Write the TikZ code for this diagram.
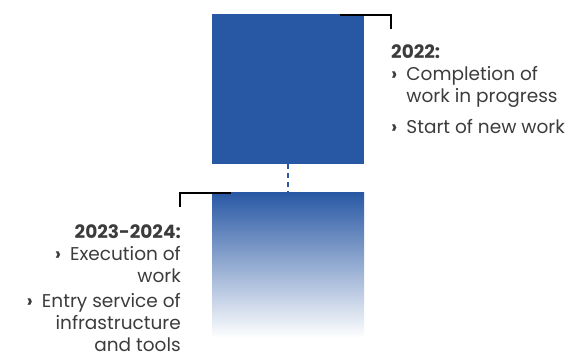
\documentclass[tikz,border=0pt]{standalone}
\usepackage{fontspec}
\setmainfont{Poppins}
\usetikzlibrary{positioning}
\definecolor{planblue}{RGB}{40,88,164}
\definecolor{plantext}{RGB}{60,60,60}

\begin{document}
\begin{tikzpicture}[x=1pt, y=-1pt, line cap=butt]

% ------------------------------------------------
% Styles
% ------------------------------------------------
\tikzset{
    bracket/.style={line width=2pt, black},
    link/.style={line width=2.2pt, planblue, dash pattern=on 5pt off 4pt},
    phase/.style={font=\fontsize{18.5}{22}\selectfont, text=plantext, inner sep=0pt},
}
\newcommand{\pbul}{\textbf{›}}

\useasboundingbox (0,0) rectangle (575,356);

% ------------------------------------------------
% Blocks
% ------------------------------------------------
\fill[planblue] (212,14) rectangle (364,164);
\shade[top color=planblue, bottom color=white] (212,192) rectangle (364,338);

\coordinate (topmid) at (288,164);
\coordinate (lowmid) at (288,200);
\draw[link] (topmid) -- (lowmid);

% ------------------------------------------------
% Brackets
% ------------------------------------------------
\coordinate (B1) at (340,15);
\draw[bracket] (B1) -| ++(51,14);
\coordinate (B2) at (231,193);
\draw[bracket] (B2) -| ++(-51,14);

% ------------------------------------------------
% Texts
% ------------------------------------------------
\node[phase, anchor=base west] (first) at (391,58) {%
    \begin{tabular}[t]{@{}l@{\hspace{9pt}}l@{}}
    \multicolumn{2}{@{}l}{\bfseries 2022:}\\
    \pbul & Completion of\\
          & work in progress\\[9pt]
    \pbul & Start of new work
    \end{tabular}};

\node[phase, anchor=base east] (second) at (181,238) {%
    \begin{tabular}[t]{@{}r@{}}
    {\bfseries 2023-2024:}\\
    \pbul\hspace{9pt}Execution of\\
    work\\[3pt]
    \pbul\hspace{9pt}Entry service of\\
    infrastructure\\
    and tools
    \end{tabular}};

\end{tikzpicture}
\end{document}
